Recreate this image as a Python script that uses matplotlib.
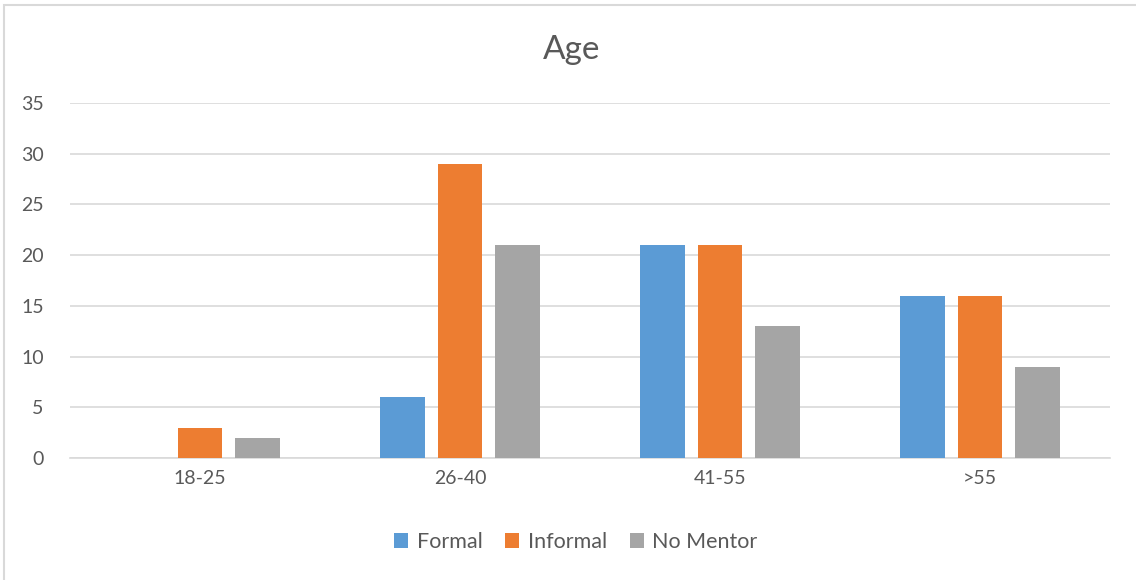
import numpy as np
from matplotlib import pyplot as plt
from matplotlib.patches import Rectangle

categories = ["18-25", "26-40", "41-55", ">55"]
series_names = ["Formal", "Informal", "No Mentor"]
formal = [0, 6, 21, 16]
informal = [3, 29, 21, 16]
no_mentor = [2, 21, 13, 9]

colors = ["#5B9BD5", "#ED7D31", "#A5A5A5"]
text_color = "#595959"

plt.rcParams['font.family'] = ['Lato', 'DejaVu Sans']

fig = plt.figure(figsize=(11.36, 5.8), dpi=100)
ax = fig.add_axes([70 / 1136, 1 - 458 / 580, 1040 / 1136, 355 / 580])

# light border round the chart area, like the Excel export
fig.patches.append(Rectangle((4 / 1136, -0.01), 1.2, 1 - 5 / 580 + 0.01,
                             transform=fig.transFigure, fill=False,
                             edgecolor="#D9D9D9", linewidth=1.5))

x = np.arange(len(categories))
width = 0.173
offset = 0.223
for i, (vals, name) in enumerate(zip([formal, informal, no_mentor], series_names)):
    ax.bar(x + (i - 1) * offset, vals, width, color=colors[i], label=name, zorder=3)

ax.set_xlim(-0.5, len(categories) - 0.5)
ax.set_ylim(0, 35)
ax.set_yticks(range(0, 36, 5))
ax.set_xticks(x)
ax.set_xticklabels(categories)
ax.grid(axis="y", color="#D9D9D9", linewidth=1.2, zorder=0)
for side in ["top", "right", "left"]:
    ax.spines[side].set_visible(False)
ax.spines["bottom"].set_color("#D9D9D9")
ax.spines["bottom"].set_linewidth(1.2)
ax.tick_params(axis="both", length=0, labelsize=14, colors=text_color)
ax.tick_params(axis="y", pad=19)
ax.tick_params(axis="x", pad=9)

fig.text(572 / 1136, 1 - 50 / 580, "Age", ha="center", va="center",
         fontsize=24, color=text_color)

fig.legend(loc="center", bbox_to_anchor=(576 / 1136, 1 - 542 / 580), ncol=3,
           frameon=False, fontsize=15.5, labelcolor=text_color,
           handlelength=0.65, handleheight=0.65, handletextpad=0.4, columnspacing=1.05)

fig.savefig("out.png", dpi=100)
